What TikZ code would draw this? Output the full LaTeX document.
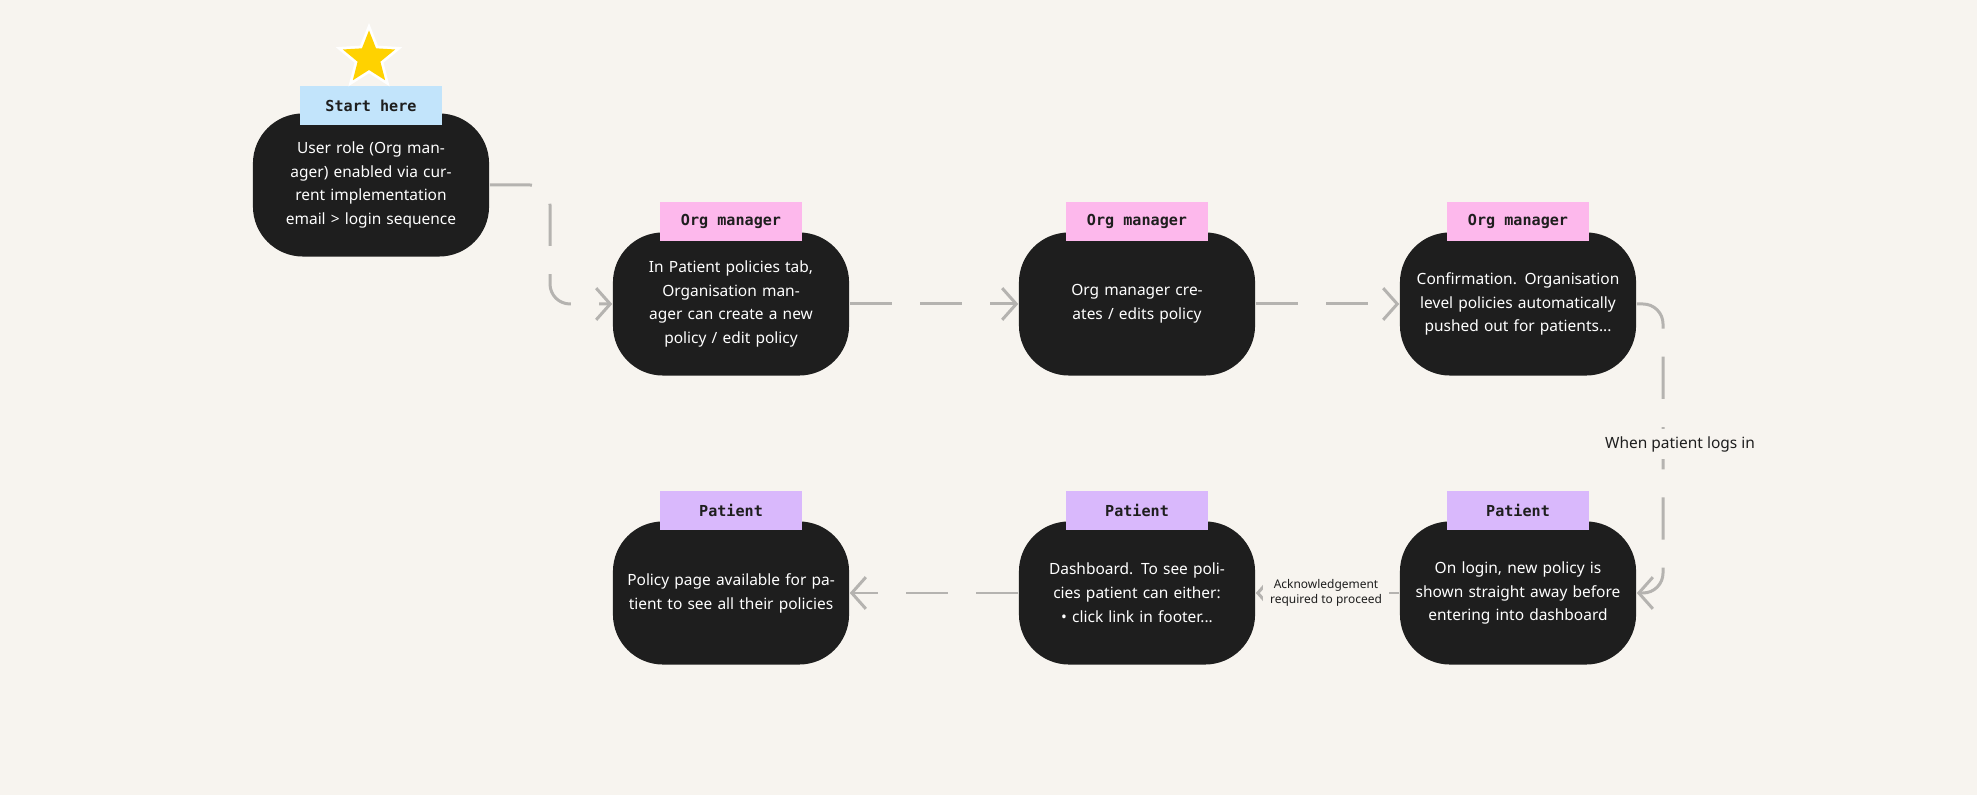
\documentclass[tikz,border=0pt]{standalone}
\usepackage{fontspec}
\setmainfont{Noto Sans}
\newfontfamily\tagfont{DejaVu Sans Mono}
\usetikzlibrary{shapes.geometric,arrows.meta,positioning}
\definecolor{paper}{HTML}{F7F4EF}
\definecolor{boxc}{HTML}{1E1E1E}
\definecolor{startc}{HTML}{C2E4FB}
\definecolor{orgc}{HTML}{FDB8EC}
\definecolor{patc}{HTML}{D9B8FC}
\definecolor{linkc}{HTML}{B5B3B0}
\tikzset{
  flowbox/.style={fill=boxc,text=white,rounded corners=0.5cm,minimum width=2.36cm,
    minimum height=1.43cm,text width=2.1cm,align=center,inner sep=0pt,
    font=\fontsize{4.4}{6.8}\selectfont},
  tag/.style={fill=#1,minimum width=1.41cm,minimum height=0.39cm,inner sep=0pt,
    font=\tagfont\bfseries\fontsize{4.3}{5}\selectfont,text=boxc},
  link/.style={draw=linkc,line width=0.85pt,dash pattern=on 12pt off 8pt,
    rounded corners=0.2cm,-{Straight Barb[length=4pt,width=9pt]}},
  note/.style={fill=paper,inner sep=2pt,text=boxc,align=center}
}
\begin{document}
\begin{tikzpicture}[x=0.01cm,y=-0.01cm]
  \fill[paper] (0,0) rectangle (1977,795);
  % top row
  \node[flowbox] (start) at (371,185) {User role (Org manager) enabled via current implementation email > login sequence};
  \node[flowbox] (tab)    at (731,304) {In \textbf{Patient policies} tab, Organisation manager can create a new policy / edit policy};
  \node[flowbox] (edit)   at (1137,304) {Org manager creates / edits policy};
  \node[flowbox] (confirm) at (1518,304) {Confirmation. Organisation level policies automatically pushed out for patients...};
  % bottom row
  \node[flowbox] (login) at (1518,593) {On login, new policy is shown straight away before entering into dashboard};
  \node[flowbox] (dash)  at (1137,593) {Dashboard. To see policies patient can either:\\ \textbullet\ click link in footer...};
  \node[flowbox] (page)  at (731,593) {Policy page available for patient to see all their policies};

  \node[tag=startc] (t_start) at (371,106) {Start here};
  \foreach \n in {tab,edit,confirm} {
    \node[tag=orgc] (t_\n) at ([yshift=0.1cm]\n.north) {Org manager};
  }
  \foreach \n in {login,dash,page} {
    \node[tag=patc] (t_\n) at ([yshift=0.1cm]\n.north) {Patient};
  }
  \node[star,star points=5,star point ratio=2.3,fill=white,minimum size=0.7cm,
    inner sep=0pt] (star) at (369,58) {};
  \node[star,star points=5,star point ratio=2.3,fill=orange!35!yellow,
    minimum size=0.55cm,inner sep=0pt] at (star) {};

  \draw[link] (start.east) -| (550,250) |- (tab.west);
  \draw[link] (tab) -- (edit);
  \draw[link] (edit) -- (confirm);
  \draw[link] (confirm.east) -| (1663,450) |- (login.east);
  \node[note,font=\fontsize{4.4}{5}\selectfont] (when) at (1680,444) {When patient logs in};
  \draw[link] (login) -- (dash);
  \node[note,font=\fontsize{3.4}{4.3}\selectfont] (ack) at (1326,593) {Acknowledgement\\required to proceed};
  \draw[link] (dash) -- (page);
\end{tikzpicture}
\end{document}
